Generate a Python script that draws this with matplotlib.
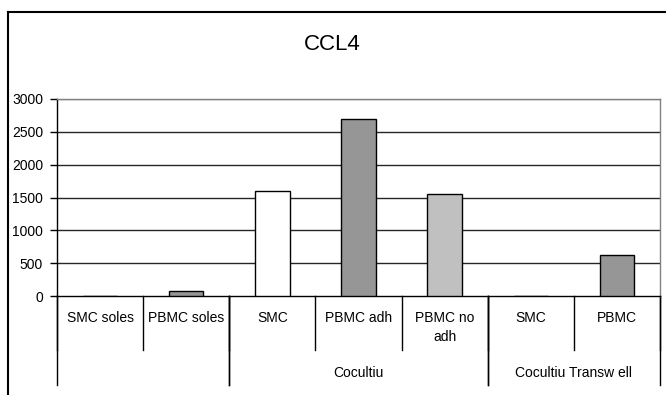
import matplotlib
matplotlib.use('Agg')
import matplotlib.pyplot as plt
import matplotlib.transforms as mtransforms
from matplotlib.lines import Line2D

plt.rcParams['font.family'] = ['Liberation Sans', 'DejaVu Sans']

labels = ['SMC soles', 'PBMC soles', 'SMC', 'PBMC adh', 'PBMC no\nadh', 'SMC', 'PBMC']
values = [0, 75, 1600, 2700, 1560, 0, 630]
colors = ['#969696', '#969696', '#FFFFFF', '#969696', '#C0C0C0', '#969696', '#969696']
groups = ['', 'Cocultiu', 'Cocultiu Transw ell']
group_spans = [(0, 1), (2, 4), (5, 6)]
yticks = [0, 500, 1000, 1500, 2000, 2500, 3000]

W, H = 666, 395
fig = plt.figure(figsize=(W / 100, H / 100), dpi=100)

# plot area in pixel coordinates
x0, x1 = 57, 660
ytop, ybot = 99, 296
ax = fig.add_axes([x0 / W, (H - ybot) / H, (x1 - x0) / W, (ybot - ytop) / H])

x = list(range(len(values)))
ax.bar(x, values, width=0.4, color=colors, edgecolor='black', linewidth=1, zorder=3)

ax.set_xlim(-0.5, len(values) - 0.5)
ax.set_ylim(0, 3000)
ax.set_yticks(yticks)
ax.set_yticklabels([str(v) for v in yticks], fontsize=10)
ax.tick_params(axis='y', length=5, width=1, pad=5, color='black')
ax.set_xticks([])
for v in yticks[1:]:
    ax.axhline(v, color='#808080' if v == 3000 else '#262626', lw=1, zorder=1)

ax.spines['left'].set_color('black')
ax.spines['bottom'].set_color('black')
ax.spines['top'].set_color('#808080')
ax.spines['right'].set_color('#808080')
for s in ax.spines.values():
    s.set_linewidth(1)

trans = mtransforms.blended_transform_factory(ax.transData, ax.transAxes)


def py(ypix):
    # pixel row -> axes fraction
    return (ybot - ypix) / (ybot - ytop)


# category separators
for b in range(len(values) + 1):
    bx = b - 0.5
    ax.plot([bx, bx], [0, py(350)], transform=trans, color='black', lw=1, clip_on=False)

for i, lab in enumerate(labels):
    ax.text(i, py(311), lab, transform=trans, ha='center', va='top', fontsize=10,
            linespacing=1.45)

# group separators and labels
for (a, b), g in zip(group_spans, groups):
    for bx in (a - 0.5, b + 0.5):
        ax.plot([bx, bx], [0, py(385)], transform=trans, color='black', lw=1, clip_on=False)
    ax.text((a + b) / 2, py(373), g, transform=trans, ha='center', va='center', fontsize=10)

fig.text(332 / W, 1 - 45 / H, 'CCL4', ha='center', va='center', fontsize=16)

# chart area border (cut off at right/bottom)
fig.add_artist(Line2D([8 / W, 8 / W], [1 - 12 / H, 0], transform=fig.transFigure,
                      color='black', lw=1.5))
fig.add_artist(Line2D([8 / W, 1], [1 - 12 / H, 1 - 12 / H], transform=fig.transFigure,
                      color='black', lw=1.5))

fig.savefig('out.png', dpi=100)
